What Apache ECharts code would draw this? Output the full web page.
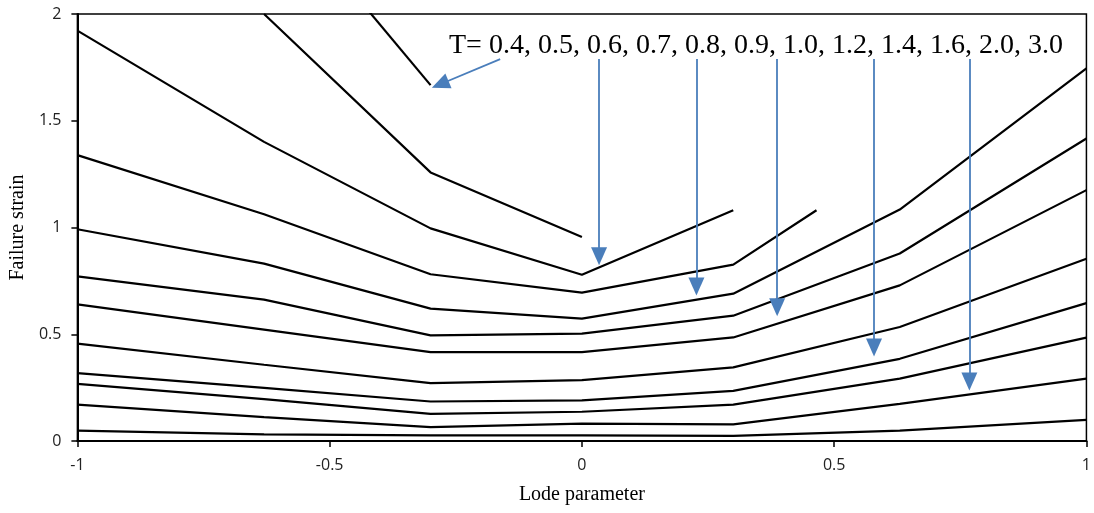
<!DOCTYPE html>
<html>
<head>
<meta charset="utf-8">
<script src="https://cdn.jsdelivr.net/npm/echarts@6/dist/echarts.min.js"></script>
<style>html,body{margin:0;padding:0;background:#fff;}#c{width:1094px;height:513px;}</style>
</head>
<body>
<div id="c"></div>
<script>
// Lode parameter positions of the data points
const lodeMain = [-1, -0.63, -0.3, 0, 0.3, 0.63, 1];
const lodeT07 = [-1, -0.63, -0.3, 0, 0.3, 0.465];
const tValues = ['0.4', '0.5', '0.6', '0.7', '0.8', '0.9', '1.0', '1.2', '1.4', '1.6', '2.0', '3.0'];

// Failure strain per T (null = no point)
const strainT04 = [null, 2.60, 1.667, null, null, null, null];
const strainT05 = [null, 2.00, 1.258, 0.956, null, null, null];
const strainT06 = [1.922, 1.401, 0.996, 0.779, 1.081, null, null];
const strainT07 = [1.339, 1.062, 0.781, 0.695, 0.826, 1.081];
const strainT08 = [0.992, 0.831, 0.620, 0.573, 0.690, 1.084, 1.745];
const strainT09 = [0.771, 0.662, 0.495, 0.503, 0.587, 0.878, 1.417];
const strainT10 = [0.640, 0.522, 0.416, 0.416, 0.485, 0.729, 1.175];
const strainT12 = [0.456, 0.357, 0.271, 0.285, 0.345, 0.534, 0.854];
const strainT14 = [0.318, 0.249, 0.185, 0.190, 0.235, 0.385, 0.646];
const strainT16 = [0.268, 0.196, 0.127, 0.137, 0.170, 0.292, 0.484];
const strainT20 = [0.170, 0.112, 0.065, 0.081, 0.078, 0.174, 0.292];
const strainT30 = [0.049, 0.031, 0.026, 0.026, 0.024, 0.049, 0.099];

const xTicks = ['-1', '-0.5', '0', '0.5', '1'];
const yTicks = ['0', '0.5', '1', '1.5', '2'];

// annotation arrows: [x1, y1, x2, y2] in data units (end = arrowhead centre)
const arrows = [
  [-0.162, 1.789, -0.281, 1.671],
  [0.034, 1.789, 0.034, 0.865],
  [0.227, 1.789, 0.227, 0.724],
  [0.387, 1.789, 0.387, 0.626],
  [0.579, 1.789, 0.579, 0.438],
  [0.768, 1.789, 0.768, 0.279]
];
const annotationText = 'T= 0.4, 0.5, 0.6, 0.7, 0.8, 0.9, 1.0, 1.2, 1.4, 1.6, 2.0, 3.0';

const allStrains = [strainT04, strainT05, strainT06, strainT07, strainT08, strainT09,
  strainT10, strainT12, strainT14, strainT16, strainT20, strainT30];

function zip(xs, ys) {
  const out = [];
  for (let i = 0; i < ys.length; i++) if (ys[i] !== null) out.push([xs[i], ys[i]]);
  return out;
}

const series = allStrains.map((ys, i) => ({
  name: 'T=' + tValues[i],
  type: 'line',
  data: zip(ys === strainT07 ? lodeT07 : lodeMain, ys),
  symbol: 'none',
  clip: true,
  lineStyle: { color: '#000', width: 2.2 },
  silent: true
}));

series.push({
  type: 'line',
  data: [],
  silent: true,
  markLine: {
    silent: true,
    symbol: ['none', 'triangle'],
    symbolSize: [16, 18],
    label: { show: false },
    lineStyle: { color: '#4a7ebb', width: 1.8, type: 'solid' },
    emphasis: { disabled: true },
    data: arrows.map(a => [{ coord: [a[0], a[1]] }, { coord: [a[2], a[3]] }])
  }
});

const chart = echarts.init(document.getElementById('c'), null, { renderer: 'canvas' });
chart.setOption({
  animation: false,
  backgroundColor: '#fff',
  grid: { left: 76, right: 7, top: 14, bottom: 72, show: true, borderColor: '#000', borderWidth: 1.5 },
  xAxis: {
    type: 'value', min: -1, max: 1, interval: 0.5,
    name: 'Lode parameter', nameLocation: 'middle', nameGap: 44,
    nameTextStyle: { fontFamily: 'Liberation Serif', fontSize: 20, color: '#000' },
    axisLine: { onZero: false, lineStyle: { color: '#000', width: 2 } },
    axisTick: { show: true, inside: false, length: 6, lineStyle: { color: '#000', width: 1.5 } },
    splitLine: { show: false },
    axisLabel: {
      fontFamily: 'Open Sans', fontSize: 16, color: '#222', margin: 16,
      formatter: v => xTicks[Math.round((v + 1) / 0.5)]
    }
  },
  yAxis: {
    type: 'value', min: 0, max: 2, interval: 0.5,
    name: 'Failure strain', nameLocation: 'middle', nameGap: 45,
    nameTextStyle: { fontFamily: 'Liberation Serif', fontSize: 20, color: '#000' },
    axisLine: { show: true, onZero: false, lineStyle: { color: '#000', width: 2 } },
    axisTick: { show: true, inside: false, length: 6, lineStyle: { color: '#000', width: 1.5 } },
    splitLine: { show: false },
    axisLabel: {
      fontFamily: 'Open Sans', fontSize: 16, color: '#222', margin: 16,
      formatter: v => yTicks[Math.round(v / 0.5)]
    }
  },
  graphic: [{
    type: 'text',
    left: 449, top: 32,
    silent: true,
    style: { text: annotationText, font: '28px "Liberation Serif"', fill: '#000' }
  }],
  series: series
});
</script>
</body>
</html>
